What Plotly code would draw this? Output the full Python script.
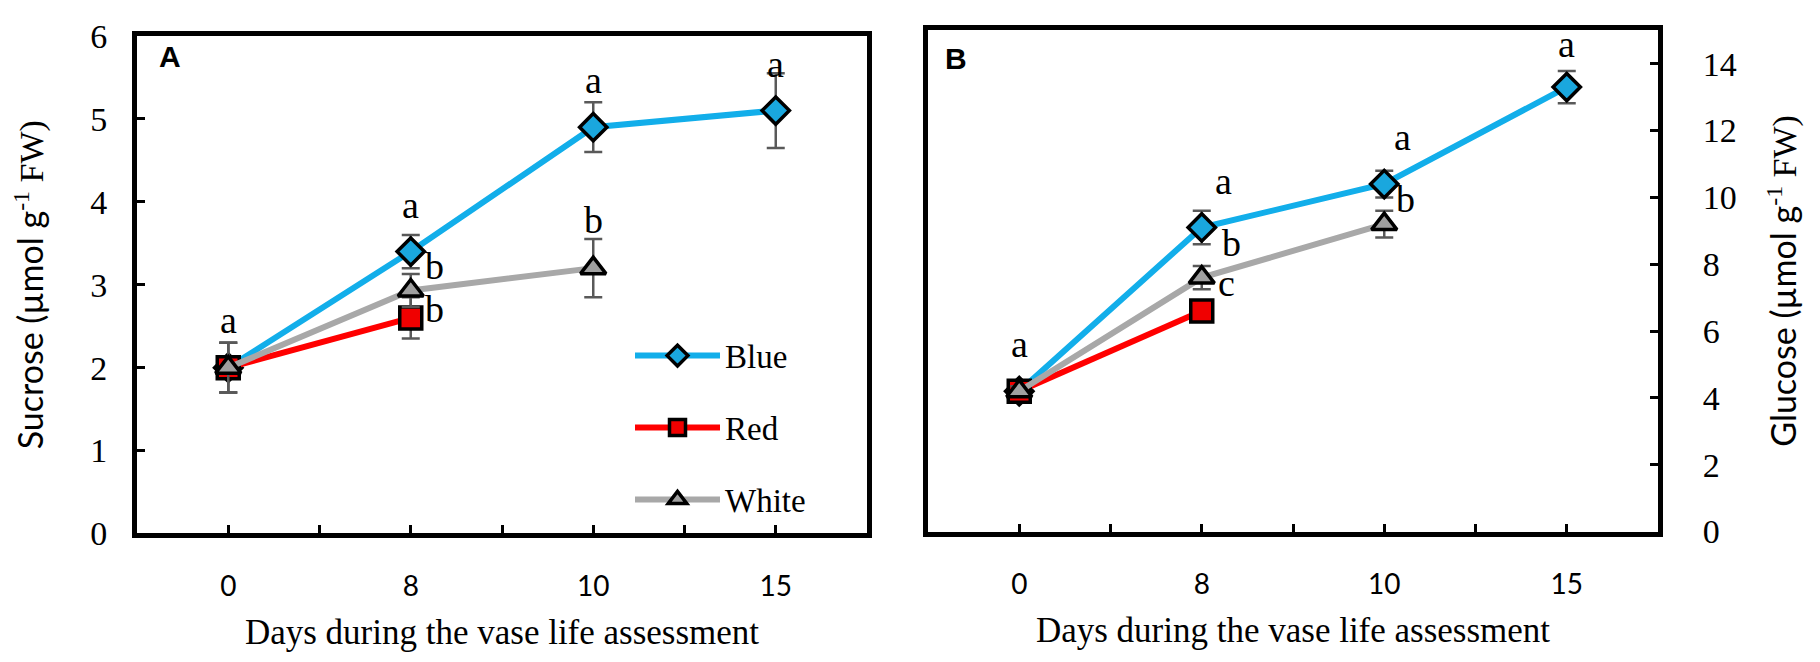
import plotly.graph_objects as go

# days of the vase life assessment (categories) and their slot on the axis
days = ["0", "8", "10", "15"]
slots = [0, 1, 2, 3]

# panel A: sucrose (umol g-1 FW)
sucrose_blue = [2.0, 3.4, 4.9, 5.1]
sucrose_blue_err = [0.3, 0.2, 0.3, 0.45]
sucrose_red = [2.0, 2.6, None, None]
sucrose_red_err = [0.3, 0.25, 0, 0]
sucrose_white = [2.0, 2.93, 3.2, None]
sucrose_white_err = [0.3, 0.2, 0.35, 0]

# panel B: glucose (umol g-1 FW)
glucose_blue = [4.2, 9.1, 10.4, 13.3]
glucose_blue_err = [0.15, 0.5, 0.4, 0.48]
glucose_red = [4.2, 6.6, None, None]
glucose_red_err = [0.15, 0.2, 0, 0]
glucose_white = [4.2, 7.6, 9.2, None]
glucose_white_err = [0.15, 0.35, 0.4, 0]

# significance letters: text, day slot, height
sucrose_letters = ["a", "a", "b", "b", "a", "b", "a"]
sucrose_letter_slot = [0, 1, 1, 1, 2, 2, 3]
sucrose_letter_y = [2.57, 3.96, 3.22, 2.71, 5.47, 3.78, 5.66]
glucose_letters = ["a", "a", "b", "c", "a", "b", "a"]
glucose_letter_slot = [0, 1, 1, 1, 2, 2, 3]
glucose_letter_y = [5.6, 10.5, 8.64, 7.45, 11.8, 9.95, 14.6]

W, H = 1820, 662
SERIF = "Liberation Serif"
SANS = "Lato"

series = [
    ("Blue", "#12AEEA", "#1AA7DE", "diamond", 21),
    ("Red", "#FF0000", "#F00000", "square", 22),
    ("White", "#A8A8A8", "#A0A0A0", "triangle-up", 22),
]

fig = go.Figure()

panels = [
    ("x", "y", [sucrose_blue, sucrose_red, sucrose_white],
     [sucrose_blue_err, sucrose_red_err, sucrose_white_err], True),
    ("x2", "y2", [glucose_blue, glucose_red, glucose_white],
     [glucose_blue_err, glucose_red_err, glucose_white_err], False),
]

for xa, ya, vals, errs, show in panels:
    for (name, lcol, fcol, sym, size), v, e in zip(series, vals, errs):
        fig.add_trace(go.Scatter(
            x=slots, y=v, xaxis=xa, yaxis=ya, name=name,
            legendgroup=name, showlegend=show,
            mode="lines+markers",
            line=dict(color=lcol, width=6),
            marker=dict(symbol=sym, size=size, color=fcol,
                        line=dict(color="black", width=3.5)),
            error_y=dict(type="data", array=e, color="#595959",
                         thickness=2.5, width=9),
        ))


def letters(text, slot, yv, xa, ya, shifts):
    for t, s, yy, dx in zip(text, slot, yv, shifts):
        fig.add_annotation(x=s, y=yy, xref=xa, yref=ya, text=t,
                           showarrow=False, xshift=dx,
                           font=dict(family=SERIF, size=38, color="black"))


letters(sucrose_letters, sucrose_letter_slot, sucrose_letter_y, "x", "y",
        [0, 0, 24, 24, 0, 0, 0])
letters(glucose_letters, glucose_letter_slot, glucose_letter_y, "x2", "y2",
        [0, 22, 30, 25, 18, 21, 0])

for lab, px, py in [("A", 157, 41), ("B", 943, 43)]:
    fig.add_annotation(x=px / W, y=1 - py / H, xref="paper", yref="paper",
                       text="<b>%s</b>" % lab, showarrow=False,
                       xanchor="left", yanchor="middle",
                       font=dict(family="Liberation Sans", size=30, color="black"))

frame = dict(showline=True, linecolor="black", linewidth=5, mirror=True,
             showgrid=False, zeroline=False, ticks="inside",
             tickcolor="black", tickwidth=2.5, ticklen=8)

xcommon = dict(frame, range=[-0.5, 3.5],
               tickvals=slots, ticktext=days,
               minor=dict(tickmode="array", tickvals=[0.5, 1.5, 2.5],
                          ticks="inside", ticklen=8, tickwidth=2.5,
                          tickcolor="black"),
               tickfont=dict(family=SANS, size=28, color="black"),
               ticklabelstandoff=24,
               title=dict(text="Days during the vase life assessment",
                          font=dict(family=SERIF, size=35, color="black"),
                          standoff=20))


def ytitle(name):
    return ('<span style="font-family:%s">%s (µmol g</span><sup>-1</sup> FW)'
            % (SANS, name))


fig.update_layout(
    width=W, height=H, margin=dict(l=0, r=0, t=0, b=0),
    plot_bgcolor="white", paper_bgcolor="white",
    xaxis=dict(xcommon, domain=[137 / W, 867 / W], anchor="y"),
    yaxis=dict(frame, domain=[1 - 546 / H, 1 - 19 / H], range=[0, 6], dtick=1,
               anchor="x",
               tickfont=dict(family=SERIF, size=34, color="black"),
               ticklabelstandoff=18,
               title=dict(text=ytitle("Sucrose"), standoff=38,
                          font=dict(family=SERIF, size=34, color="black"))),
    xaxis2=dict(xcommon, domain=[928 / W, 1658 / W], anchor="y2"),
    yaxis2=dict(frame, domain=[1 - 544 / H, 1 - 13 / H], range=[0, 15],
                tickvals=[0, 2, 4, 6, 8, 10, 12, 14], anchor="x2", side="right",
                tickfont=dict(family=SERIF, size=34, color="black"),
                ticklabelstandoff=33,
                title=dict(text=ytitle("Glucose"), standoff=38,
                           font=dict(family=SERIF, size=34, color="black"))),
    legend=dict(x=630 / W, y=1 - 328 / H, xanchor="left", yanchor="top",
                bgcolor="rgba(0,0,0,0)", itemwidth=85, tracegroupgap=26,
                font=dict(family=SERIF, size=33, color="black")),
)

fig.write_html("out.html", config=dict(displayModeBar=False),
               post_script="document.body.style.margin='0';")
